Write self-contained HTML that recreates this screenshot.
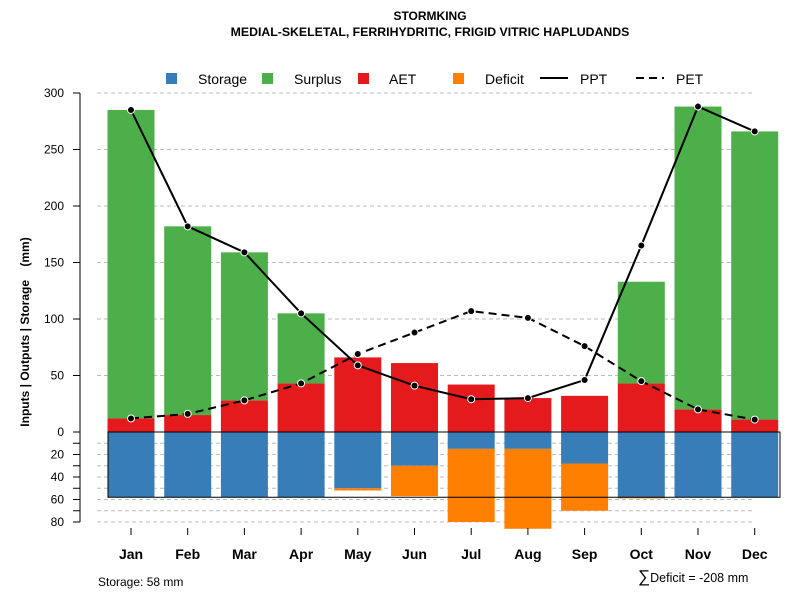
<!DOCTYPE html>
<html><head><meta charset="utf-8"><style>body{margin:0;background:#fff}svg{font-family:"Liberation Sans",sans-serif}</style></head>
<body>
<svg id="c" width="800" height="600" xmlns="http://www.w3.org/2000/svg">
<text x="430" y="20" text-anchor="middle" font-size="12" font-weight="bold">STORMKING</text>
<text x="430" y="36" text-anchor="middle" font-size="12.3" font-weight="bold">MEDIAL-SKELETAL, FERRIHYDRITIC, FRIGID VITRIC HAPLUDANDS</text>
<g id="legend">
<rect x="166" y="73" width="11" height="11" fill="#377eb8"/><text x="198" y="84" font-size="14">Storage</text>
<rect x="262" y="73" width="11" height="11" fill="#4daf4a"/><text x="294" y="84" font-size="14">Surplus</text>
<rect x="358" y="73" width="11" height="11" fill="#e41a1c"/><text x="389" y="84" font-size="14">AET</text>
<rect x="453" y="73" width="11" height="11" fill="#ff7f00"/><text x="485" y="84" font-size="14">Deficit</text>
<line x1="540" y1="78" x2="568" y2="78" stroke="#000" stroke-width="2"/><text x="580" y="84" font-size="14">PPT</text>
<line x1="636" y1="78" x2="664" y2="78" stroke="#000" stroke-width="2" stroke-dasharray="8,5"/><text x="676" y="84" font-size="14">PET</text>
</g>
<text transform="translate(29,332) rotate(-90)" text-anchor="middle" font-size="12" font-weight="bold" xml:space="preserve">Inputs | Outputs | Storage    (mm)</text>
<g id="grid"></g><g id="bars"></g><g id="axes"></g><g id="lines"></g>
<text x="98" y="586" font-size="12">Storage: 58 mm</text>
<text x="638" y="582" font-size="12.5"><tspan font-size="17">∑</tspan>Deficit = -208 mm</text>
</svg>
<script>
const months=["Jan","Feb","Mar","Apr","May","Jun","Jul","Aug","Sep","Oct","Nov","Dec"];
const ppt=[285,182,159,105,59,41,29,30,46,165,288,266];
const pet=[12,16,28,43,69,88,107,101,76,45,20,11];
const aet=[12,15,28,43,66,61,42,30,32,43,20,11];
const surplus=[273,167,131,62,0,0,0,0,0,90,268,255];
const storage=[58,58,58,58,50,30,15,15,28,58,58,58];
const deficit=[0,0,0,0,2,27,65,71,42,1,0,0];
const yTicksUp=[0,50,100,150,200,250,300];
const yTicksDown=[20,40,60,80];
const NS="http://www.w3.org/2000/svg";
const y0=432,k=1.13;
const yU=v=>y0-v*k, yD=v=>y0+v*1.125;
const xc=i=>131+i*56.7, bw=47;
function mk(p,t,a){const e=document.createElementNS(NS,t);for(const n in a)e.setAttribute(n,a[n]);document.getElementById(p).appendChild(e);return e;}
yTicksUp.slice(1).forEach(v=>{const e=mk('grid','line',{x1:97,x2:755,y1:yU(v),y2:yU(v),stroke:'#bbb','stroke-dasharray':'4,3'});

});
[10,20,30,40,50,60,70,80].forEach(v=>{const e=mk('grid','line',{x1:97,x2:755,y1:yD(v),y2:yD(v),stroke:'#bbb','stroke-dasharray':'4,3'});

});
months.forEach((m,i)=>{
 const x=xc(i)-bw/2;
 let r=mk('bars','rect',{x:x,y:yU(aet[i]),width:bw,height:aet[i]*k,fill:'#e41a1c'});
 
 
 if(surplus[i]>0){r=mk('bars','rect',{x:x,y:yU(aet[i]+surplus[i]),width:bw,height:surplus[i]*k,fill:'#4daf4a'});
 
 }
 r=mk('bars','rect',{x:x,y:y0,width:bw,height:storage[i]*1.125,fill:'#377eb8'});
 
 
 if(deficit[i]>0){r=mk('bars','rect',{x:x,y:yD(storage[i]),width:bw,height:deficit[i]*1.125,fill:'#ff7f00'});
 
 }
 const t=mk('axes','text',{x:xc(i),y:559,'text-anchor':'middle','font-size':14,'font-weight':'bold'});t.textContent=m;
 
 
 mk('axes','line',{x1:xc(i),x2:xc(i),y1:528,y2:535,stroke:'#000'});
});
let b=mk('axes','rect',{x:108,y:y0,width:672,height:58*1.125,fill:'none',stroke:'#000'});


mk('axes','line',{x1:80,x2:80,y1:yU(300),y2:yD(80),stroke:'#000'});
yTicksUp.forEach(v=>{mk('axes','line',{x1:73,x2:80,y1:yU(v),y2:yU(v),stroke:'#000'});
 const t=mk('axes','text',{x:64,y:yU(v)+4,'text-anchor':'end','font-size':12});t.textContent=v;
 
 });
[10,20,30,40,50,60,70,80].forEach(v=>mk('axes','line',{x1:73,x2:80,y1:yD(v),y2:yD(v),stroke:'#000'}));
yTicksDown.forEach(v=>{const t=mk('axes','text',{x:64,y:yD(v)+4,'text-anchor':'end','font-size':12});t.textContent=v;
 
 });
function series(vals,dash,name){
 const p=mk('lines','polyline',{points:vals.map((v,i)=>xc(i)+','+yU(v)).join(' '),fill:'none',stroke:'#000','stroke-width':2,'stroke-dasharray':dash});
 
 
 vals.forEach((v,i)=>{const c=mk('lines','circle',{cx:xc(i),cy:yU(v),r:3.5,fill:'#000',stroke:'#fff','stroke-width':1});
 
 });
}
series(ppt,'none','ppt');series(pet,'8,5','pet');
</script>
</body></html>
